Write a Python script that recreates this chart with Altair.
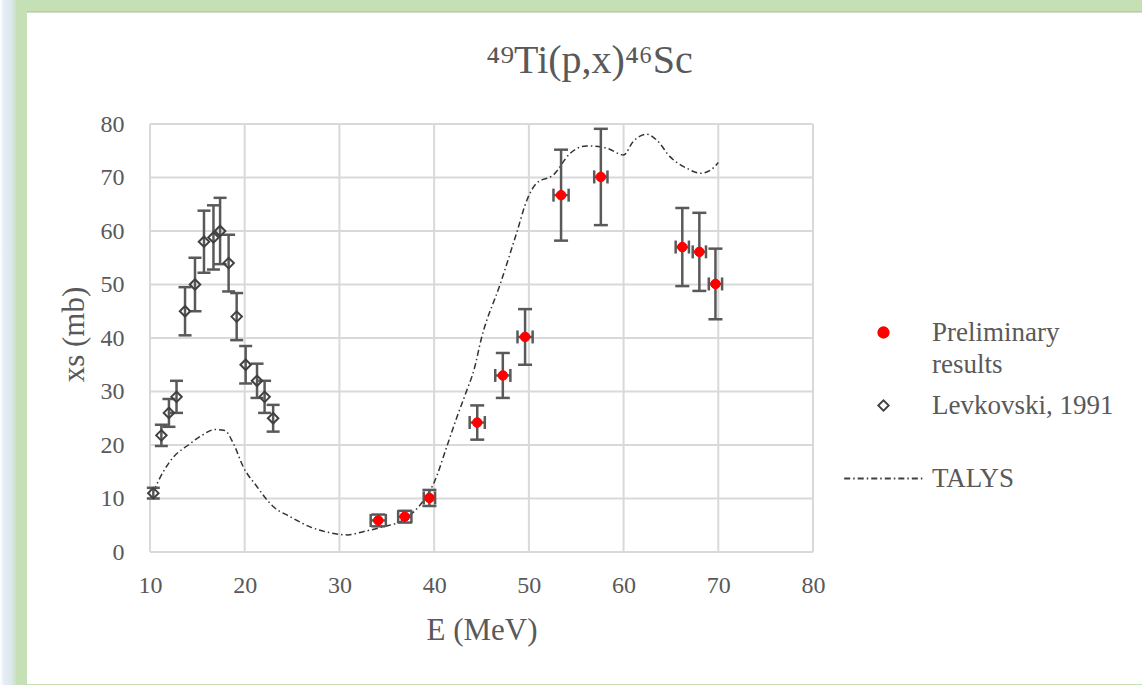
import altair as alt
import pandas as pd

# ---------------- data ----------------
series = ["Preliminary results", "Levkovski, 1991", "TALYS"]

lev_E = [10.35, 11.2, 12.0, 12.8, 13.7, 14.75, 15.7, 16.7, 17.4, 18.3, 19.15, 20.1, 21.3, 22.1, 23.0]
lev_xs = [11.0, 21.8, 26.0, 29.0, 45.0, 50.0, 58.0, 58.8, 60.0, 54.0, 44.0, 35.0, 32.0, 29.0, 25.0]
lev_err = [1.0, 2.0, 2.6, 3.0, 4.5, 5.0, 5.8, 6.0, 6.2, 5.3, 4.4, 3.5, 3.2, 3.0, 2.5]

pre_E = [34.1, 36.9, 39.5, 44.55, 47.25, 49.6, 53.4, 57.6, 66.2, 68.0, 69.7]
pre_xs = [5.9, 6.6, 10.1, 24.2, 33.0, 40.2, 66.7, 70.1, 57.0, 56.1, 50.1]
pre_err = [1.1, 1.1, 1.5, 3.2, 4.2, 5.2, 8.5, 9.0, 7.3, 7.3, 6.6]
pre_dE = [0.8, 0.7, 0.6, 0.8, 0.8, 0.8, 0.8, 0.7, 0.7, 0.7, 0.7]

talys_E = [10.35, 11.4, 12.5, 14.05, 15.3, 16.9, 17.9, 18.8, 19.85, 21.3, 23.0, 24.8, 26.9,
           29.0, 30.9, 32.5, 34.6, 36.75, 38.9, 40.0, 41.3, 42.3, 43.4, 44.2, 45.0, 47.0,
           48.7, 49.8, 50.8, 52.6, 54.35, 56.1, 58.2, 60.0, 61.0, 62.45, 63.5, 64.9, 66.7,
           68.1, 69.2, 70.0]
talys_xs = [11.3, 15.0, 17.8, 20.0, 21.6, 22.9, 22.7, 20.3, 15.9, 12.2, 8.5, 6.6, 4.7,
            3.6, 3.2, 3.8, 4.7, 6.0, 9.7, 13.0, 19.5, 24.7, 30.0, 34.0, 40.0, 50.2,
            59.6, 65.8, 68.9, 70.5, 74.5, 75.9, 75.5, 74.2, 76.7, 78.1, 77.0, 73.9, 71.7,
            70.8, 71.4, 72.8]

x_ticks = [10, 20, 30, 40, 50, 60, 70, 80]
y_ticks = [0, 10, 20, 30, 40, 50, 60, 70, 80]

# ---------------- tables ----------------
lev = pd.DataFrame({"E": lev_E, "xs": lev_xs})
lev["lo"] = [v - e for v, e in zip(lev_xs, lev_err)]
lev["hi"] = [v + e for v, e in zip(lev_xs, lev_err)]
lev["series"] = series[1]

pre = pd.DataFrame({"E": pre_E, "xs": pre_xs})
pre["lo"] = [v - e for v, e in zip(pre_xs, pre_err)]
pre["hi"] = [v + e for v, e in zip(pre_xs, pre_err)]
pre["Elo"] = [v - e for v, e in zip(pre_E, pre_dE)]
pre["Ehi"] = [v + e for v, e in zip(pre_E, pre_dE)]
pre["series"] = series[0]

tal = pd.DataFrame({"E": talys_E, "xs": talys_xs})

# ---------------- style ----------------
W, H = 663, 428
FONT = "Liberation Serif"
GREY = "#595959"
BAR = "#595959"
DARK = "#404040"
GRID = "#d9d9d9"


def dashdot_path(half=7.5, dash=1.15, gap=0.57, dot=0.29):
    segs = []
    x = -half
    seq = [(dash, True), (gap, False), (dot, True), (gap, False)]
    i = 0
    while x < half:
        L, draw = seq[i % 4]
        x2 = min(x + L, half)
        if draw:
            segs.append(f"M{x:.2f},0L{x2:.2f},0")
        x = x2
        i += 1
    return "".join(segs)


xscale = alt.Scale(domain=[10, 80], nice=False, zero=False)
yscale = alt.Scale(domain=[0, 80], nice=False)

XAXIS = alt.Axis(values=x_ticks, grid=False, domain=False, ticks=False, zindex=1, labelFlush=False,
                 labelFont=FONT, labelFontSize=24, labelColor=GREY, labelPadding=21,
                 title="E (MeV)", titleFont=FONT, titleFontSize=31, titleColor=GREY,
                 titleFontWeight="normal", titleY=87, titleBaseline="alphabetic")
YAXIS = alt.Axis(values=y_ticks, grid=False, domain=False, ticks=False, zindex=1, labelFlush=False,
                 labelFont=FONT, labelFontSize=24, labelColor=GREY, labelPadding=26,
                 title="xs (mb)", titleFont=FONT, titleFontSize=31, titleColor=GREY,
                 titleFontWeight="normal", titleX=-67, titleY=210, titleBaseline="alphabetic")


def X(f):
    return alt.X(f, type="quantitative", scale=xscale, axis=XAXIS)


def Y(f):
    return alt.Y(f, type="quantitative", scale=yscale, axis=YAXIS)


LEG = alt.Legend(title=None, orient="none", legendX=720, legendY=195, padding=0,
                 symbolSize=110, symbolStrokeWidth=1.8, zindex=1,
                 labelFont=FONT, labelFontSize=27, labelColor=GREY, labelOffset=35,
                 labelLimit=400, rowPadding=13,
                 labelExpr="datum.label == 'Preliminary results' ? ['Preliminary', 'results'] : [datum.label, '']")

SHAPE = alt.Shape("series:N", scale=alt.Scale(domain=series, range=["circle", "diamond", dashdot_path()]), legend=LEG)
FILL = alt.Fill("series:N", scale=alt.Scale(domain=series, range=["#ff0000", "transparent", "transparent"]), legend=LEG)
STROKE = alt.Stroke("series:N", scale=alt.Scale(domain=series, range=["#ff0000", DARK, DARK]), legend=LEG)

one = alt.Data(values=[{}])

# ---------------- frame decoration ----------------
strip = alt.Chart(one).mark_rect(
    color=alt.LinearGradient(gradient="linear", x1=0, x2=1, y1=0, y2=0,
                             stops=[alt.GradientStop(offset=0, color="#ffffff"),
                                    alt.GradientStop(offset=0.25, color="#e4ecf5"),
                                    alt.GradientStop(offset=0.65, color="#dde9ee"),
                                    alt.GradientStop(offset=1, color="#c6e0b5")])
).encode(x=alt.value(-150), x2=alt.value(-133), y=alt.value(-124), y2=alt.value(561))

panel = alt.Chart(one).mark_rect(color="white").encode(
    x=alt.value(-123), x2=alt.value(992), y=alt.value(-112), y2=alt.value(560))

topline = alt.Chart(one).mark_rule(color="#a6bd97", strokeWidth=1).encode(
    x=alt.value(-123), x2=alt.value(992), y=alt.value(-112))

# ---------------- grid ----------------
vgrid = alt.Chart(pd.DataFrame({"E": x_ticks})).mark_rule(color=GRID, strokeWidth=2).encode(x=X("E"))
hgrid = alt.Chart(pd.DataFrame({"xs": y_ticks})).mark_rule(color=GRID, strokeWidth=2).encode(y=Y("xs"))

# ---------------- TALYS ----------------
talys = alt.Chart(tal).mark_line(color="#333333", strokeWidth=1.5, strokeDash=[6, 3, 1.5, 3],
                                 interpolate="monotone").encode(x=X("E"), y=Y("xs"))

# ---------------- error bars ----------------
lev_bar = alt.Chart(lev).mark_rule(color=BAR, strokeWidth=2.5).encode(x=X("E"), y=Y("lo"), y2="hi")
lev_cap_lo = alt.Chart(lev).mark_tick(orient="horizontal", color=BAR, thickness=2.5, size=13, opacity=1).encode(x=X("E"), y=Y("lo"))
lev_cap_hi = alt.Chart(lev).mark_tick(orient="horizontal", color=BAR, thickness=2.5, size=13, opacity=1).encode(x=X("E"), y=Y("hi"))

pre_bar = alt.Chart(pre).mark_rule(color=BAR, strokeWidth=2.5).encode(x=X("E"), y=Y("lo"), y2="hi")
pre_cap_lo = alt.Chart(pre).mark_tick(orient="horizontal", color=BAR, thickness=2.5, size=14, opacity=1).encode(x=X("E"), y=Y("lo"))
pre_cap_hi = alt.Chart(pre).mark_tick(orient="horizontal", color=BAR, thickness=2.5, size=14, opacity=1).encode(x=X("E"), y=Y("hi"))
pre_xbar = alt.Chart(pre).mark_rule(color=BAR, strokeWidth=2.5).encode(x=X("Elo"), x2="Ehi", y=Y("xs"))
pre_xcap_lo = alt.Chart(pre).mark_tick(orient="vertical", color=BAR, thickness=2.5, size=13, opacity=1).encode(x=X("Elo"), y=Y("xs"))
pre_xcap_hi = alt.Chart(pre).mark_tick(orient="vertical", color=BAR, thickness=2.5, size=13, opacity=1).encode(x=X("Ehi"), y=Y("xs"))

# ---------------- points ----------------
lev_pts = alt.Chart(lev).mark_point(size=110, opacity=1, strokeWidth=2).encode(
    x=X("E"), y=Y("xs"), shape=SHAPE, fill=FILL, stroke=STROKE)
pre_pts = alt.Chart(pre).mark_point(size=90, opacity=1, strokeWidth=1).encode(
    x=X("E"), y=Y("xs"), shape=SHAPE, fill=FILL, stroke=STROKE)

chart = alt.layer(
    strip, panel, topline, vgrid, hgrid, talys,
    lev_bar, lev_cap_lo, lev_cap_hi,
    pre_bar, pre_cap_lo, pre_cap_hi, pre_xbar, pre_xcap_lo, pre_xcap_hi,
    lev_pts, pre_pts,
).properties(
    width=W, height=H,
    padding={"left": 150, "top": 124, "right": 329, "bottom": 133},
    autosize=alt.AutoSizeParams(type="none"),
    background="#c6e0b5",
    title=alt.TitleParams(text="⁴⁹Ti(p,x)⁴⁶Sc", font=FONT, fontSize=40, color=GREY,
                          fontWeight="normal", anchor="middle", frame="group",
                          dx=108, offset=-113, baseline="alphabetic", zindex=1),
).configure(
    style={"guide-label": {"lineHeight": 32}}
).configure_view(stroke=None)

chart.save("out.html", embed_options={"renderer": "svg", "actions": False})
